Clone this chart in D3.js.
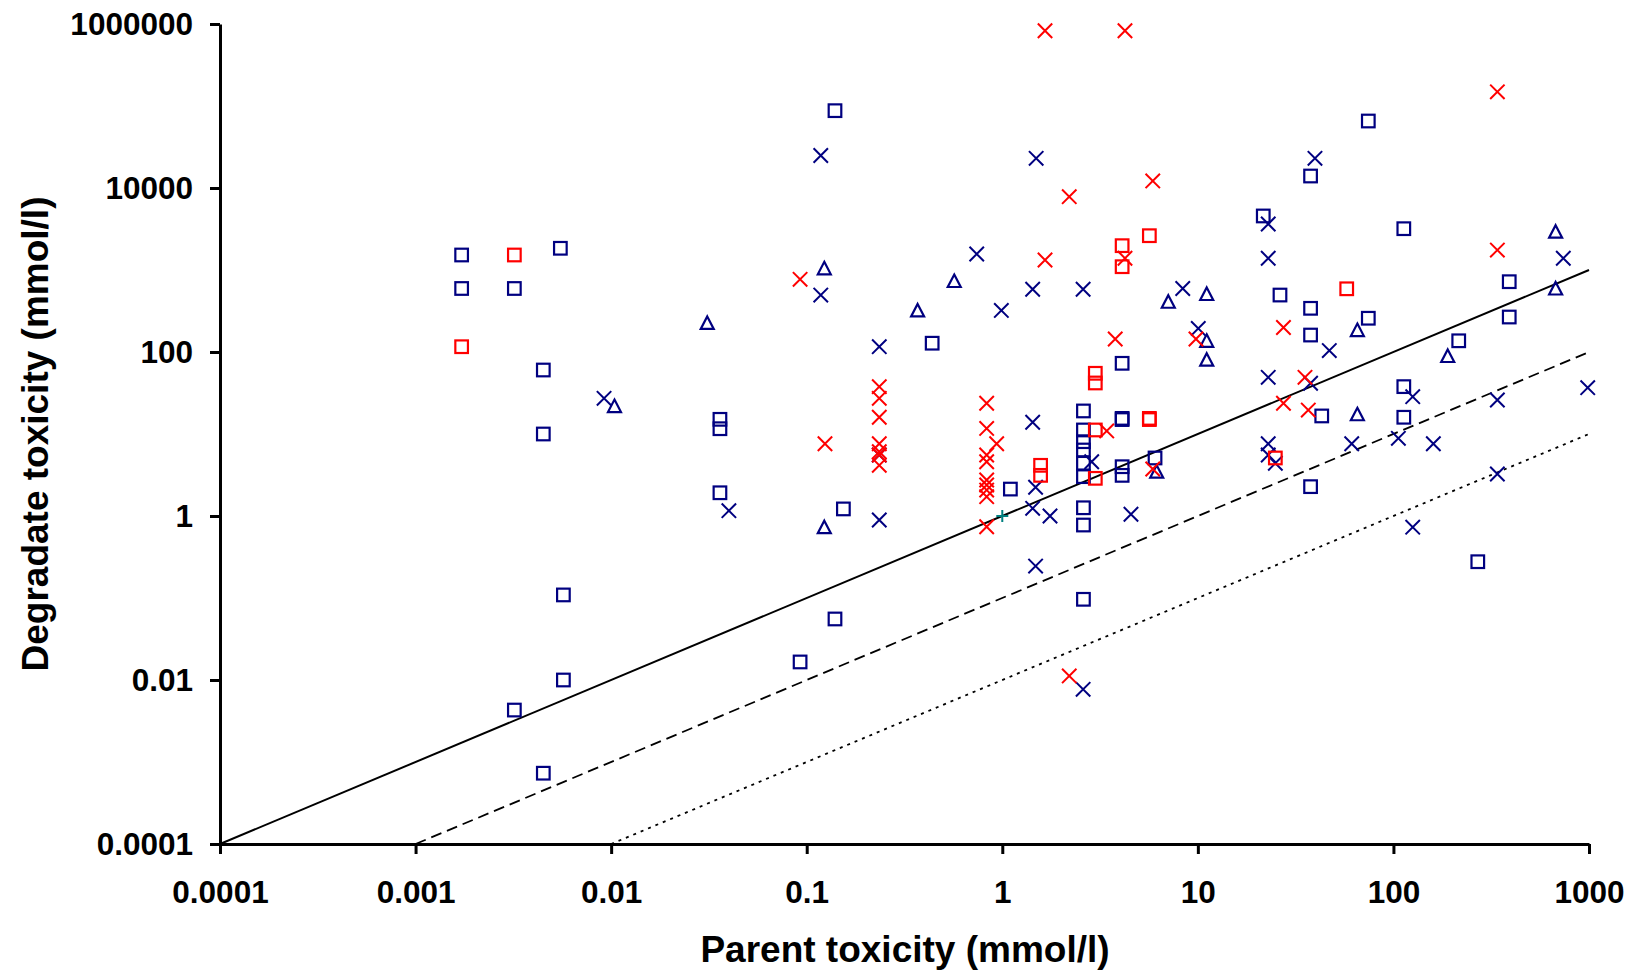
<!DOCTYPE html>
<html>
<head>
<meta charset="utf-8">
<script src="https://cdn.jsdelivr.net/npm/d3@7"></script>
<style>
  html, body { margin: 0; padding: 0; background: #fff; }
  svg { display: block; }
  .tick text { font-family: "Liberation Sans", Arial, sans-serif; font-weight: bold; }
</style>
</head>
<body>
<svg id="chart" width="1636" height="975"></svg>
<script>
// Parent toxicity vs degradate toxicity (mmol/l), log-log.
// Each series is a list of [parent, degradate] pairs.

const xTicks = [0.0001, 0.001, 0.01, 0.1, 1, 10, 100, 1000];
const xTickLabels = ["0.0001", "0.001", "0.01", "0.1", "1", "10", "100", "1000"];
const yTicks = [0.0001, 0.01, 1, 100, 10000, 1000000];
const yTickLabels = ["0.0001", "0.01", "1", "100", "10000", "1000000"];

const blueSquares = [
  [0.00172, 1524], [0.0055, 1840], [0.00172, 595], [0.0032, 595],
  [0.1395, 87700], [74.4, 65600], [37.7, 14000], [21.6, 4560], [113, 3190],
  [391, 720], [391, 267], [26.3, 495], [37.7, 341], [74.4, 258], [37.7, 161],
  [0.0045, 60.3], [0.0045, 10], [0.036, 15.1], [0.036, 11.6], [0.036, 1.92],
  [0.0057, 0.109], [0.438, 128], [0.154, 1.22], [0.1395, 0.0555], [1.10, 2.13],
  [2.6, 19.1], [2.6, 11.2], [2.6, 8.06], [2.6, 6.38], [2.6, 4.40], [2.6, 3.02],
  [2.6, 1.26], [2.6, 0.776], [2.6, 0.0964],
  [4.10, 72.8], [4.10, 15.5], [4.10, 15.0], [4.10, 3.99], [4.10, 3.13],
  [6.04, 5.1], [215.7, 137], [43.0, 16.6], [113, 37.8], [113, 16.0],
  [37.7, 2.28], [270, 0.277], [0.0057, 0.01], [0.0032, 0.0043],
  [0.0045, 0.00073], [0.0925, 0.0166]
];

const redSquares = [
  [0.0032, 1524], [0.00172, 116], [4.10, 1980], [4.10, 1097], [5.65, 2620],
  [57.7, 590], [1.57, 4.15], [1.57, 3.13], [2.99, 55], [2.99, 41.9],
  [2.99, 11.2], [2.99, 2.88], [5.65, 15.5], [5.65, 15.0], [24.9, 5.1]
];

const blueCrosses = [
  [0.118, 24900], [0.118, 495], [1.49, 23000], [39.7, 23000], [0.74, 1566],
  [0.989, 321], [1.43, 582], [2.59, 582], [8.37, 595], [10.05, 194],
  [22.9, 3640], [22.9, 1390], [739, 1390], [47.0, 104], [22.9, 49.1],
  [37.7, 41.6], [125.5, 28.5], [340, 26], [985, 36.7], [22.9, 7.6],
  [22.9, 5.55], [24.9, 4.4], [61.2, 7.6], [106, 8.86], [160, 7.6],
  [340, 3.25], [125.5, 0.73], [0.0092, 27.2], [0.040, 1.16], [0.235, 116],
  [0.235, 5.55], [0.235, 0.893], [1.43, 13.9], [1.48, 2.24], [1.43, 1.24],
  [1.754, 1.0], [1.48, 0.245], [2.865, 4.59], [4.55, 1.05], [2.59, 0.0077]
];

const redCrosses = [
  [1.654, 828000], [4.24, 828000], [340, 149000], [2.20, 7830], [5.88, 12200],
  [4.24, 1390], [1.654, 1324], [0.0925, 770], [340, 1750], [3.78, 144],
  [9.78, 144], [27.4, 199], [35.3, 49.1], [27.4, 23.7], [36.7, 19.6],
  [0.124, 7.6],
  [0.235, 37.8], [0.235, 27.2], [0.235, 16.0], [0.235, 7.6], [0.235, 6.08],
  [0.235, 5.55], [0.235, 4.15],
  [0.832, 23.7], [0.832, 11.7], [0.832, 5.55], [0.832, 4.59], [0.832, 2.75],
  [0.832, 2.39], [0.832, 2.07], [0.832, 1.72], [0.832, 0.74],
  [0.936, 7.6], [3.42, 10.9], [5.88, 3.74], [2.20, 0.0112]
];

const blueTriangles = [
  [0.031, 226], [0.0104, 21.9], [0.123, 1049], [0.123, 0.73], [0.369, 321],
  [0.568, 734], [7.06, 410], [11.1, 510], [11.1, 137], [11.1, 80.5],
  [6.16, 3.47], [65.4, 185], [65.4, 17.4], [189.5, 89.4], [675, 2930],
  [675, 595]
];

const tealPlus = [[1, 1]];

// Reference lines: degradate = parent, parent/10, parent/100
const ratioLines = [
  { ratio: 1, from: 0.0001, dash: null },
  { ratio: 0.1, from: 0.001, dash: "11,6" },
  { ratio: 0.01, from: 0.01, dash: "3,5" }
];

const NAVY = "#000080", RED = "#ff0000", TEAL = "#008080";

const svg = d3.select("#chart");
const x = d3.scaleLog().domain([0.0001, 1000]).range([220, 1589]);
const y = d3.scaleLog().domain([0.0001, 1000000]).range([844, 24]);

// Reference lines
const lineGen = d3.line().x(d => x(d[0])).y(d => y(d[1]));
ratioLines.forEach(l => {
  svg.append("path")
    .datum([[l.from, l.from * l.ratio], [1000, 1000 * l.ratio]])
    .attr("d", lineGen)
    .attr("fill", "none")
    .attr("stroke", "#000")
    .attr("stroke-width", l.dash ? 1.8 : 2)
    .attr("stroke-dasharray", l.dash);
});

// Markers
const g = svg.append("g");

function squares(data, color) {
  const s = 12.6;
  g.selectAll(null).data(data).enter().append("rect")
    .attr("x", d => x(d[0]) - s / 2)
    .attr("y", d => y(d[1]) - s / 2)
    .attr("width", s).attr("height", s)
    .attr("fill", "none").attr("stroke", color).attr("stroke-width", 2.2);
}
function crosses(data, color) {
  const h = 7.2;
  g.selectAll(null).data(data).enter().append("path")
    .attr("d", d => {
      const cx = x(d[0]), cy = y(d[1]);
      return `M${cx - h},${cy - h}L${cx + h},${cy + h}M${cx - h},${cy + h}L${cx + h},${cy - h}`;
    })
    .attr("fill", "none").attr("stroke", color).attr("stroke-width", 2);
}
function triangles(data, color) {
  g.selectAll(null).data(data).enter().append("path")
    .attr("d", d => {
      const cx = x(d[0]), cy = y(d[1]);
      return `M${cx},${cy - 6.5}L${cx + 6.5},${cy + 6}L${cx - 6.5},${cy + 6}Z`;
    })
    .attr("fill", "none").attr("stroke", color).attr("stroke-width", 2.2)
    .attr("stroke-linejoin", "miter");
}
function pluses(data, color) {
  const h = 6;
  g.selectAll(null).data(data).enter().append("path")
    .attr("d", d => {
      const cx = x(d[0]), cy = y(d[1]);
      return `M${cx - h},${cy}L${cx + h},${cy}M${cx},${cy - h}L${cx},${cy + h}`;
    })
    .attr("fill", "none").attr("stroke", color).attr("stroke-width", 2);
}

squares(blueSquares, NAVY);
triangles(blueTriangles, NAVY);
crosses(blueCrosses, NAVY);
squares(redSquares, RED);
crosses(redCrosses, RED);
pluses(tealPlus, TEAL);

// Axes
const xAxis = d3.axisBottom(x)
  .tickValues(xTicks)
  .tickFormat((d, i) => xTickLabels[i])
  .tickSize(10).tickSizeOuter(0).tickPadding(27);
const yAxis = d3.axisLeft(y)
  .tickValues(yTicks)
  .tickFormat((d, i) => yTickLabels[i])
  .tickSize(10).tickSizeOuter(0).tickPadding(17);

function styleAxis(sel) {
  sel.select(".domain").attr("stroke", "#000").attr("stroke-width", 3);
  sel.selectAll(".tick line").attr("stroke", "#000").attr("stroke-width", 3);
  sel.selectAll(".tick text").attr("fill", "#000").style("font-size", "31.5px");
}

svg.append("g").attr("transform", "translate(0,844)").call(xAxis).call(styleAxis);
svg.append("g").attr("transform", "translate(220,0)").call(yAxis).call(styleAxis);

// Axis titles
svg.append("text")
  .attr("x", 905).attr("y", 962)
  .attr("text-anchor", "middle")
  .style("font-family", "'Liberation Sans', Arial, sans-serif")
  .style("font-weight", "bold").style("font-size", "37px")
  .text("Parent toxicity (mmol/l)");

svg.append("text")
  .attr("transform", "translate(48,434) rotate(-90)")
  .attr("text-anchor", "middle")
  .style("font-family", "'Liberation Sans', Arial, sans-serif")
  .style("font-weight", "bold").style("font-size", "37px")
  .text("Degradate toxicity (mmol/l)");
</script>
</body>
</html>
